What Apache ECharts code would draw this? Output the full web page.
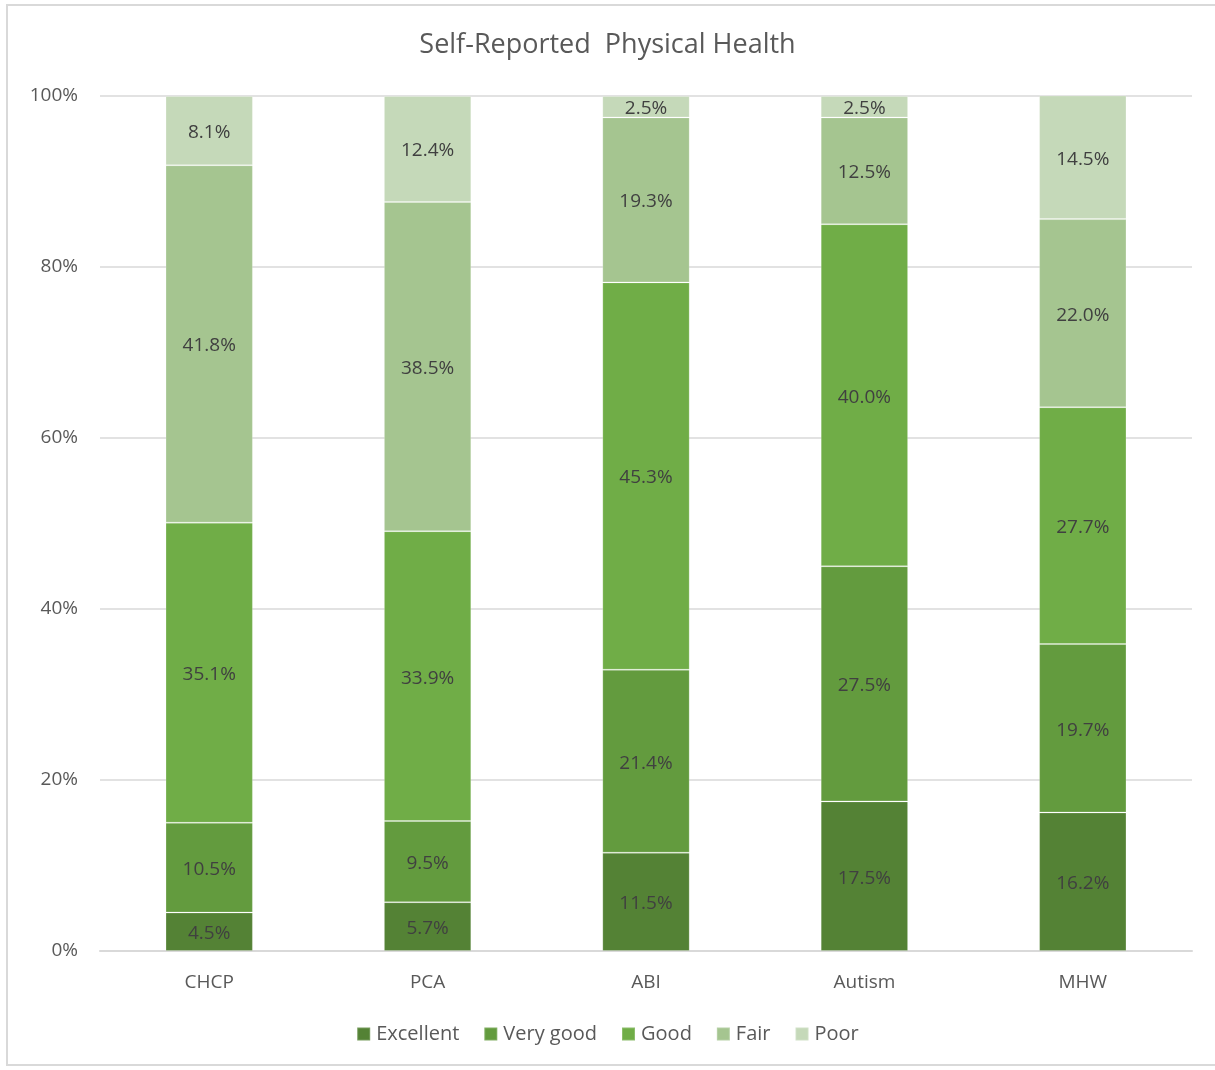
<!DOCTYPE html>
<html>
<head>
<meta charset="utf-8">
<script src="https://cdn.jsdelivr.net/npm/echarts@6/dist/echarts.min.js"></script>
<style>
  html, body { margin: 0; padding: 0; background: #fff; }
  .frame {
    position: absolute; left: 6px; top: 4px; width: 1215px; height: 1062px;
    border: 2px solid #d9d9d9; box-sizing: border-box;
  }
  #chart { position: absolute; left: 0; top: 0; width: 1215px; height: 1070px; }
</style>
</head>
<body>
<div class="frame"></div>
<div id="chart"></div>
<script>
const categories = ['CHCP', 'PCA', 'ABI', 'Autism', 'MHW']
const excellent = [4.5, 5.7, 11.5, 17.5, 16.2]
const veryGood  = [10.5, 9.5, 21.4, 27.5, 19.7]
const good      = [35.1, 33.9, 45.3, 40.0, 27.7]
const fair      = [41.8, 38.5, 19.3, 12.5, 22.0]
const poor      = [8.1, 12.4, 2.5, 2.5, 14.5]

const FONT = '"Open Sans", "Noto Sans", sans-serif'
const TEXT = '#595959'

const seriesDefs = [
  { name: 'Excellent', data: excellent, color: '#548235' },
  { name: 'Very good', data: veryGood,  color: '#639b3e' },
  { name: 'Good',      data: good,      color: '#70ad47' },
  { name: 'Fair',      data: fair,      color: '#a5c590' },
  { name: 'Poor',      data: poor,      color: '#c5d9b9' },
]

const chart = echarts.init(document.getElementById('chart'))
chart.setOption({
  animation: false,
  title: {
    text: 'Self-Reported  Physical Health',
    left: 'center', top: 27,
    textStyle: { fontFamily: FONT, fontSize: 27, fontWeight: 'normal', color: TEXT },
  },
  legend: {
    bottom: 21, left: 'center',
    itemWidth: 13, itemHeight: 13, itemGap: 24,
    icon: 'rect',
    textStyle: { fontFamily: FONT, fontSize: 20, color: TEXT, padding: [0, 0, 0, 1] },
  },
  grid: { left: 100, right: 23, top: 96, bottom: 119 },
  xAxis: {
    type: 'category',
    data: categories,
    axisLine: { lineStyle: { color: '#d9d9d9', width: 2 } },
    axisTick: { show: false },
    axisLabel: { fontFamily: FONT, fontSize: 19, color: TEXT, margin: 22 },
  },
  yAxis: {
    type: 'value',
    min: 0, max: 100, interval: 20,
    axisLine: { show: false },
    axisTick: { show: false },
    splitLine: { lineStyle: { color: '#d9d9d9', width: 1.5 } },
    axisLabel: { fontFamily: FONT, fontSize: 19, color: TEXT, margin: 22, formatter: '{value}%' },
  },
  series: seriesDefs.map(s => ({
    name: s.name,
    type: 'bar',
    stack: 'total',
    barWidth: '40%',
    data: s.data,
    itemStyle: { color: s.color, borderColor: 'rgba(255,255,255,0.2)', borderWidth: 1 },
    label: {
      show: true,
      position: 'inside',
      offset: [0, 2],
      fontFamily: FONT, fontSize: 19, color: '#404040',
      formatter: p => p.value.toFixed(1) + '%',
    },
  })),
})
</script>
</body>
</html>
